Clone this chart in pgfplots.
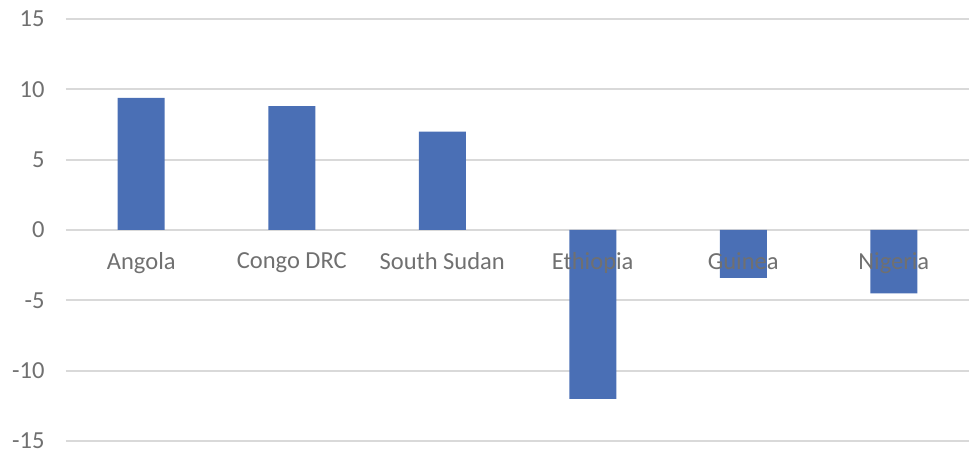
\documentclass[border=0pt]{standalone}
\usepackage{pgfplots}
\pgfplotsset{compat=1.18}
\usepackage{fontspec}
\setmainfont{Carlito}
\definecolor{barblue}{RGB}{74,111,181}
\definecolor{gridgrey}{RGB}{217,217,217}
\definecolor{labelgrey}{RGB}{112,112,112}
\tikzset{catlabel/.style={anchor=north, yshift=-19pt,
    font=\fontsize{24.5}{27}\selectfont, text=labelgrey}}

\begin{document}
\begin{tikzpicture}
\begin{axis}[
    scale only axis,
    width=903pt,
    height=422pt,
    xmin=-0.5, xmax=5.5,
    ymin=-15, ymax=15,
    axis line style={draw=none},
    ytick={-15,-10,-5,0,5,10,15},
    yticklabels={-15,-10,-5,0,5,10,15},
    xtick=\empty,
    major tick length=0pt,
    ymajorgrids,
    grid style={gridgrey, line width=2pt},
    tick label style={font=\fontsize{24.5}{27}\selectfont, text=labelgrey},
    yticklabel style={anchor=east, xshift=-18pt},
    clip=false,
]
\addplot[ybar, bar width=47pt, fill=barblue, draw=none] coordinates {
    (0,9.4) (1,8.8) (2,7.0) (3,-12.0) (4,-3.4) (5,-4.5)
};
% category names sit on the zero line, over the bars
\node[catlabel] at (axis cs:0,0) {Angola};
\node[catlabel] at (axis cs:1,0) {Congo DRC};
\node[catlabel] at (axis cs:2,0) {South Sudan};
\node[catlabel] at (axis cs:3,0) {Ethiopia};
\node[catlabel] at (axis cs:4,0) {Guinea};
\node[catlabel] at (axis cs:5,0) {Nigeria};
\end{axis}
\path (current axis.south west) ++(-66pt,-11pt) coordinate (bl);
\path (current axis.north east) ++(2pt,19pt) coordinate (tr);
\useasboundingbox (bl) rectangle (tr);
\end{tikzpicture}
\end{document}
